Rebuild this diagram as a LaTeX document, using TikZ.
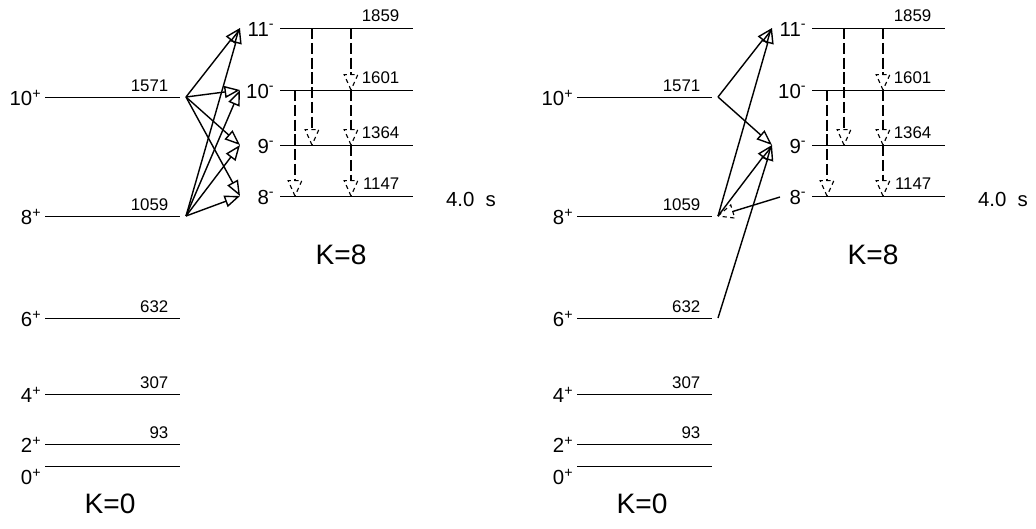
\documentclass[tikz,border=0pt]{standalone}
\usepackage{fontspec}
\setmainfont{Liberation Sans}
\usetikzlibrary{arrows.meta, calc}
\tikzset{
  lvl/.style={line width=0.7pt},
  spin/.style={anchor=east, inner sep=1pt, font=\fontsize{14.5}{16}\selectfont},
  ener/.style={anchor=south east, inner sep=1pt, font=\fontsize{12}{13}\selectfont},
  band/.style={font=\fontsize{20}{22}\selectfont},
  gam/.style={line width=1pt, -{Triangle[open, length=11pt, width=8.5pt]}},
  dgam/.style={line width=0.9pt, dash pattern=on 8pt off 2.5pt, shorten >=11pt},
}
% dashed open head at #2, line coming from #1
\newcommand{\dhead}[2]{\draw[line width=0.8pt, dash pattern=on 3pt off 2.5pt]
  (#2) -- ($(#2)!12pt!24:(#1)$) -- ($(#2)!12pt!-24:(#1)$) -- cycle;}

\begin{document}
\begin{tikzpicture}[x=0.025cm, y=-0.025cm]
  \useasboundingbox (0,0) rectangle (1036,528);
  \foreach \p/\dx in {a/0, b/532} {
    \begin{scope}[shift={(\dx,0)}]
      % ground band
      \foreach \n/\y/\e in {10/97/1571, 8/216/1059, 6/318/632, 4/394/307, 2/444/93} {
        \draw[lvl] (45,\y) -- (180,\y);
        \node[spin] (\p gs\n) at (43,\y+1) {\n\textsuperscript{+}};
        \node[ener] (\p ge\n) at (170,\y-4) {\e};
        \coordinate (\p s\n) at (186,\y);
      }
      \draw[lvl] (45,466) -- (180,466);
      \node[spin] (\p gs0) at (43,477) {0\textsuperscript{+}};
      \node[band] (\p K0) at (110,504) {K=0};
      % isomer band
      \foreach \n/\y/\e in {11/28/1859, 10/90/1601, 9/145/1364, 8/196/1147} {
        \draw[lvl] (280,\y) -- (413,\y);
        \node[spin] (\p ks\n) at (276,\y+1) {\n\textsuperscript{-}};
        \node[ener] (\p ke\n) at (401,\y-5) {\e};
        \coordinate (\p t\n) at (240,\y);
        \coordinate (\p u\n) at (295,\y);
        \coordinate (\p v\n) at (312,\y);
        \coordinate (\p w\n) at (351,\y);
      }
      \node[band] (\p K8) at (341,255) {K=8};
      \node[spin, anchor=center] (\p half) at (471,199) {4.0~~s};
      % in-band transitions
      \draw[dgam] (\p u10) -- (\p u8);  \dhead{\p u10}{\p u8}
      \draw[dgam] (\p v11) -- (\p v9);  \dhead{\p v11}{\p v9}
      \draw[dgam] (\p w11) -- (\p w10); \dhead{\p w11}{\p w10}
      \draw[dgam] (\p w10) -- (\p w9);  \dhead{\p w10}{\p w9}
      \draw[dgam] (\p w9) -- (\p w8);   \dhead{\p w9}{\p w8}
    \end{scope}
  }
  % left: all links
  \foreach \i in {10,8}
    \foreach \f in {11,10,9,8}
      \draw[gam] (as\i) -- (at\f);
  % right: observed links
  \draw[gam] (bs10) -- (bt11);
  \draw[gam] (bs10) -- (bt9);
  \draw[gam] (bs8) -- (bt11);
  \draw[gam] (bs8) -- (bt9);
  \draw[gam] (bs6) -- (bt9);
  \coordinate (bf8) at (780,197);
  \draw[line width=1pt, shorten >=11pt] (bf8) -- (bs8);
  \dhead{bf8}{bs8}
\end{tikzpicture}
\end{document}
